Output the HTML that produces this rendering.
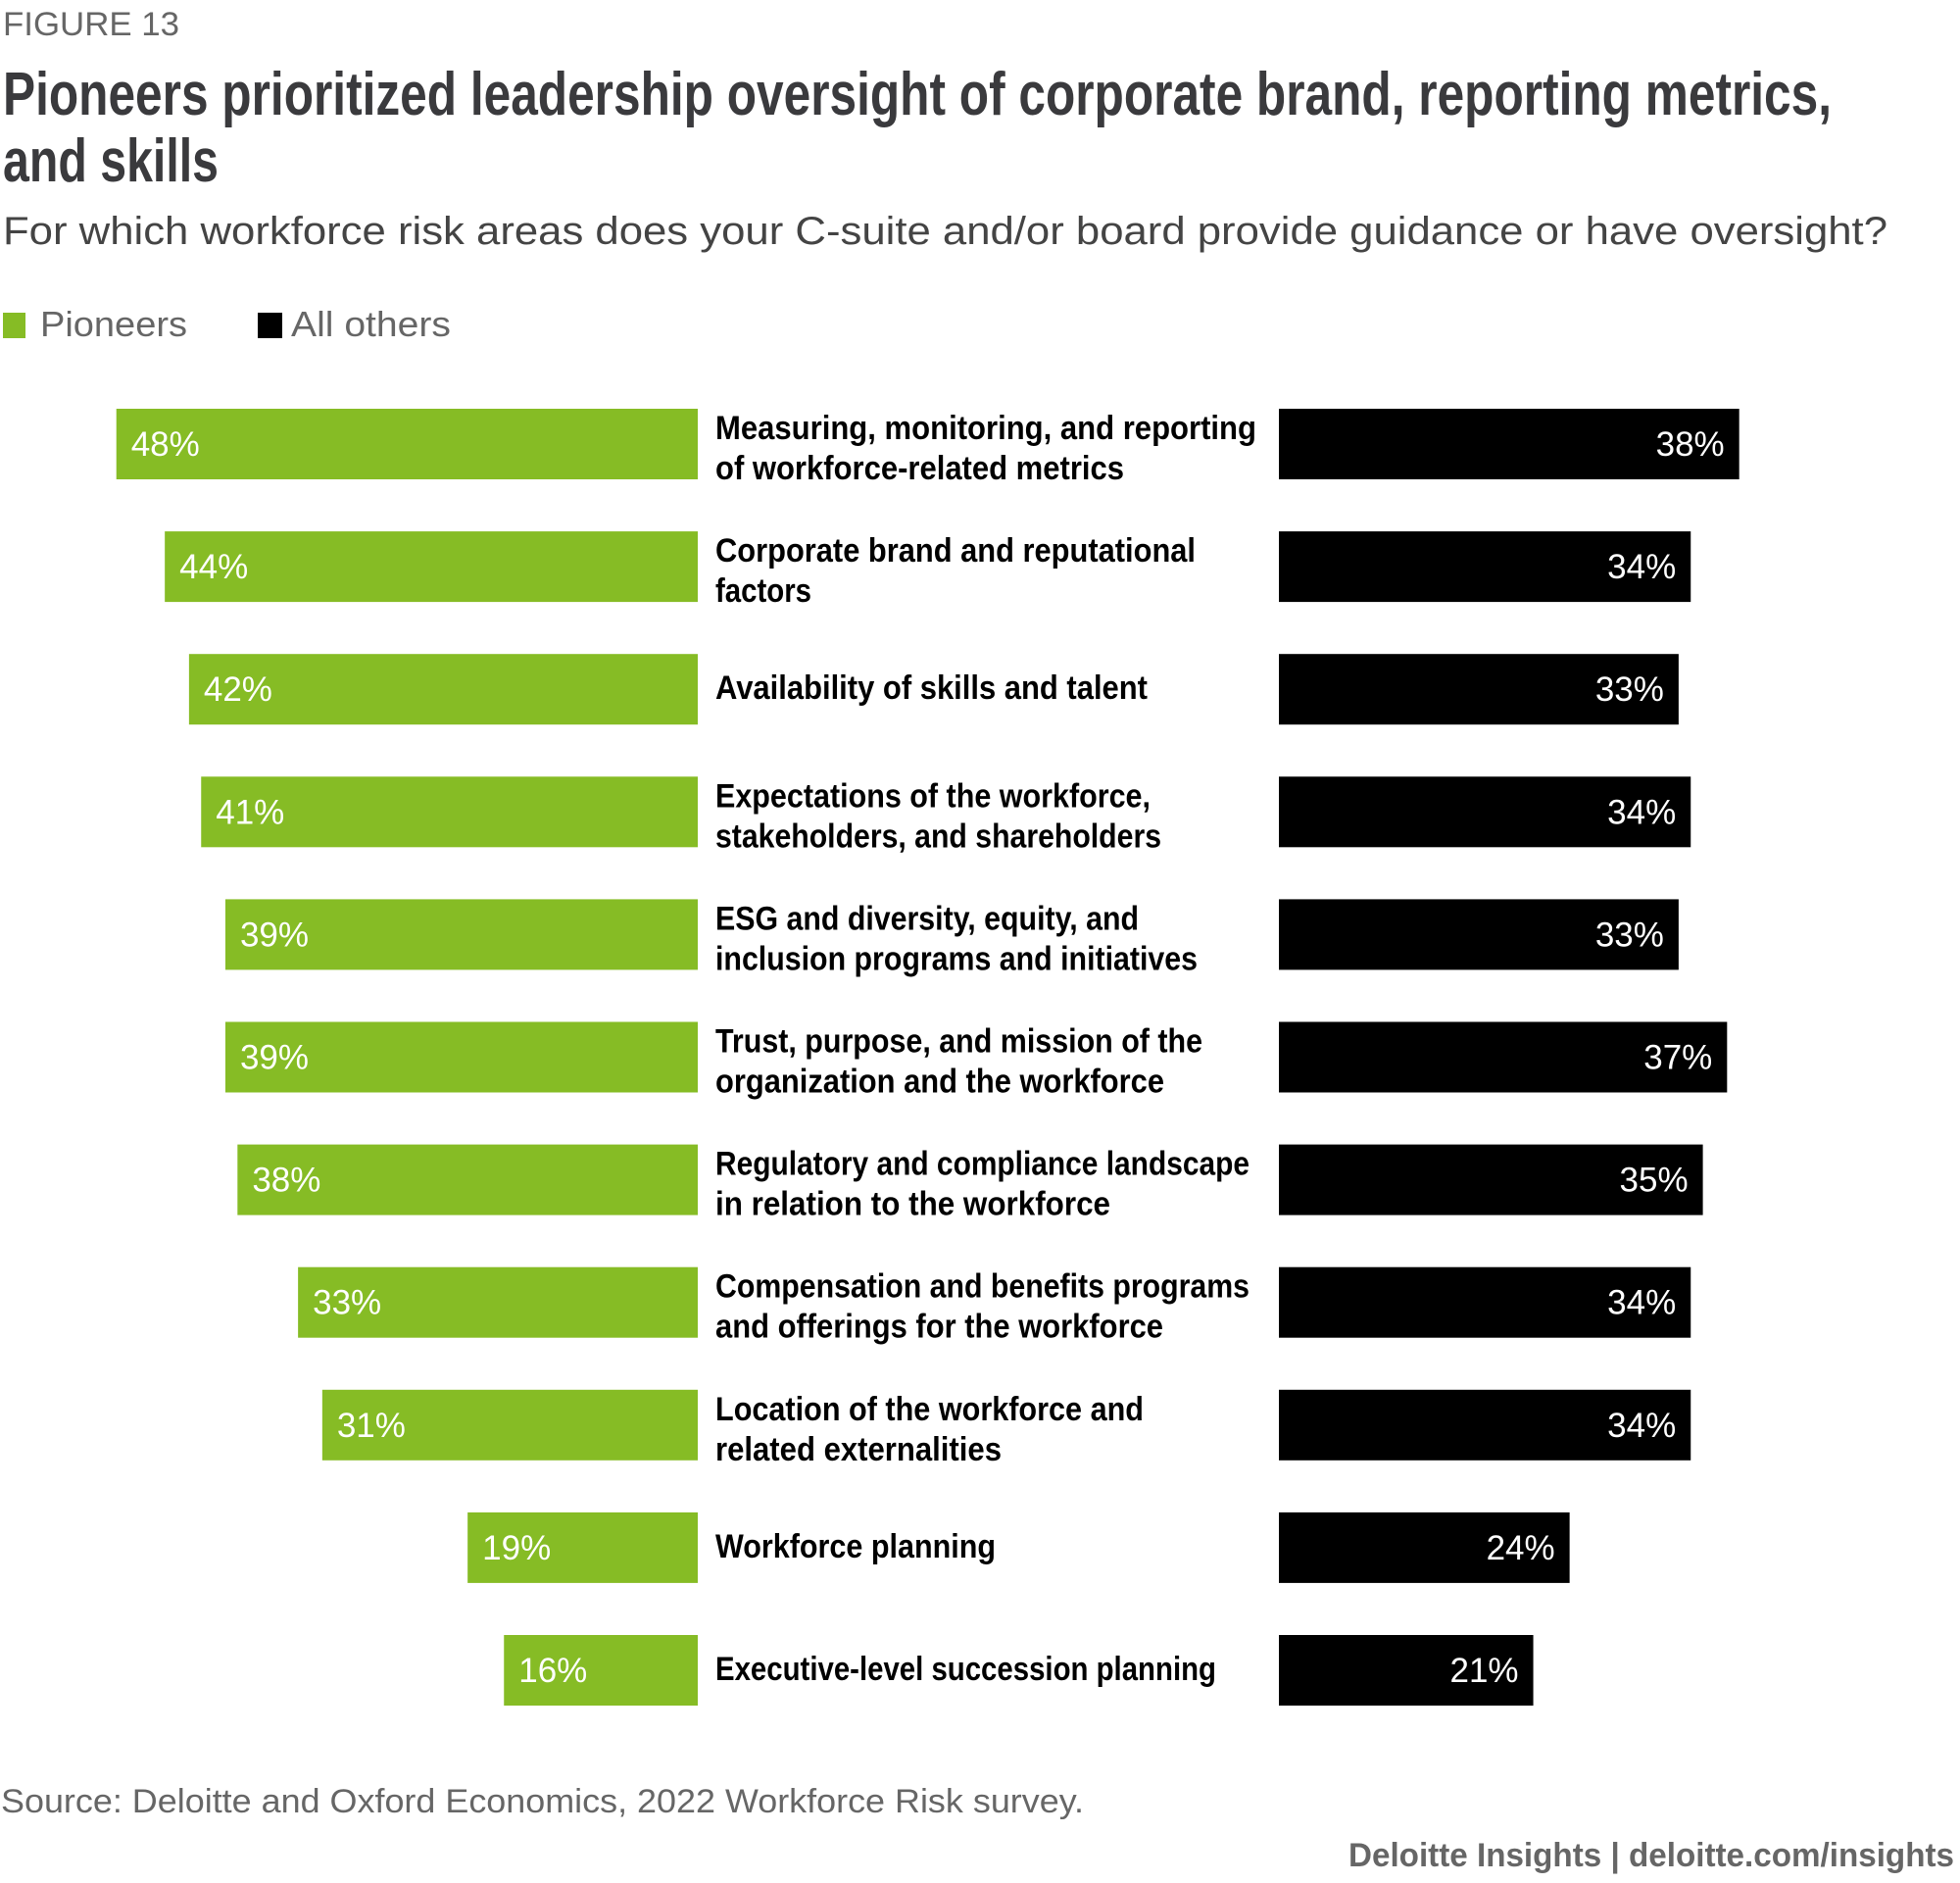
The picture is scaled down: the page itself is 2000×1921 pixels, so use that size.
<!DOCTYPE html>
<html><head><meta charset="utf-8">
<style>
html,body{margin:0;padding:0;background:#fff;}
svg{display:block;}
</style></head>
<body>
<svg id="chart" width="2000" height="1921" viewBox="0 0 2000 1921" xmlns="http://www.w3.org/2000/svg">
<text x="3" y="36" font-family="Liberation Sans Narrow, Liberation Sans, sans-serif" font-size="34" fill="#666" textLength="180" lengthAdjust="spacingAndGlyphs">FIGURE 13</text>
<text x="3" y="117" font-family="Liberation Sans Narrow, Liberation Sans, sans-serif" font-weight="bold" font-size="62" fill="#3a3a3d" textLength="1866" lengthAdjust="spacingAndGlyphs">Pioneers prioritized leadership oversight of corporate brand, reporting metrics,</text>
<text x="3" y="185" font-family="Liberation Sans Narrow, Liberation Sans, sans-serif" font-weight="bold" font-size="62" fill="#3a3a3d" textLength="220" lengthAdjust="spacingAndGlyphs">and skills</text>
<text x="3" y="249" font-family="Liberation Sans, sans-serif" font-size="40" fill="#444" textLength="1923" lengthAdjust="spacingAndGlyphs">For which workforce risk areas does your C-suite and/or board provide guidance or have oversight?</text>
<g>
<rect x="3" y="319" width="23" height="26" fill="#86bc25"/>
<text x="41" y="343" font-family="Liberation Sans, sans-serif" font-size="36" fill="#666" textLength="150" lengthAdjust="spacingAndGlyphs">Pioneers</text>
<rect x="263" y="319" width="25" height="26" fill="#000"/>
<text x="297" y="343" font-family="Liberation Sans, sans-serif" font-size="36" fill="#666" textLength="163" lengthAdjust="spacingAndGlyphs">All others</text>
</g>
<g id="bars"></g>
<text x="1" y="1849" font-family="Liberation Sans, sans-serif" font-size="34" fill="#666" textLength="1105" lengthAdjust="spacingAndGlyphs">Source: Deloitte and Oxford Economics, 2022 Workforce Risk survey.</text>
<text x="1376" y="1904" font-family="Liberation Sans, sans-serif" font-weight="bold" font-size="34" fill="#666" textLength="618" lengthAdjust="spacingAndGlyphs">Deloitte Insights | deloitte.com/insights</text>
</svg>
<script>
const categories = [
  ["Measuring, monitoring, and reporting","of workforce-related metrics"],
  ["Corporate brand and reputational","factors"],
  ["Availability of skills and talent"],
  ["Expectations of the workforce,","stakeholders, and shareholders"],
  ["ESG and diversity, equity, and","inclusion programs and initiatives"],
  ["Trust, purpose, and mission of the","organization and the workforce"],
  ["Regulatory and compliance landscape","in relation to the workforce"],
  ["Compensation and benefits programs","and offerings for the workforce"],
  ["Location of the workforce and","related externalities"],
  ["Workforce planning"],
  ["Executive-level succession planning"]
];
const pioneers = [48,44,42,41,39,39,38,33,31,19,16];
const allOthers = [38,34,33,34,33,37,35,34,34,24,21];
// layout: display end-x of each label line (for width fitting)
const labelEnds = [[1005,899],[956,649],[918],[920,929],[911,958],[962,931],[999,888],[999,930],[915,801],[796],[973]];

const NS = "http://www.w3.org/2000/svg";
const g = document.getElementById('bars');
const PX = 12.36, GREEN_RIGHT = 712, BLACK_LEFT = 1305, TOP = 417, PITCH = 125.1, BH = 72;
function xGreen(v){ return GREEN_RIGHT - v*PX; }
function wBar(v){ return v*PX; }
function yRow(i){ return TOP + i*PITCH; }
function mk(tag, attrs){ const e=document.createElementNS(NS,tag); for(const k in attrs) e.setAttribute(k,attrs[k]); return e; }

categories.forEach((lines,i)=>{
  const y = yRow(i), cy = y + BH/2;
  const gb = mk('rect',{x:xGreen(pioneers[i]),y:y,width:wBar(pioneers[i]),height:BH,fill:'#86bc25'});
  
  
  g.appendChild(gb);
  const gt = mk('text',{x:xGreen(pioneers[i])+15,y:cy+12,'font-family':'Liberation Sans, sans-serif','font-size':35,fill:'#fff'});
  gt.textContent = pioneers[i]+'%';
  
  
  g.appendChild(gt);
  const bb = mk('rect',{x:BLACK_LEFT,y:y,width:wBar(allOthers[i]),height:BH,fill:'#000'});
  
  
  g.appendChild(bb);
  const bt = mk('text',{x:BLACK_LEFT+wBar(allOthers[i])-15,y:cy+12,'text-anchor':'end','font-family':'Liberation Sans, sans-serif','font-size':35,fill:'#fff'});
  bt.textContent = allOthers[i]+'%';
  
  
  g.appendChild(bt);
  const base = lines.length===2 ? [cy-5, cy+36] : [cy+10];
  lines.forEach((ln,j)=>{
    const w = (labelEnds[i][j]-572)*1.2755;
    const t = mk('text',{x:730,y:base[j],'font-family':'Liberation Sans Narrow, Liberation Sans, sans-serif','font-weight':'bold','font-size':34,fill:'#000',textLength:w.toFixed(0),lengthAdjust:'spacingAndGlyphs'});
    t.textContent = ln;
    
    
    g.appendChild(t);
  });
});
</script>
</body></html>
